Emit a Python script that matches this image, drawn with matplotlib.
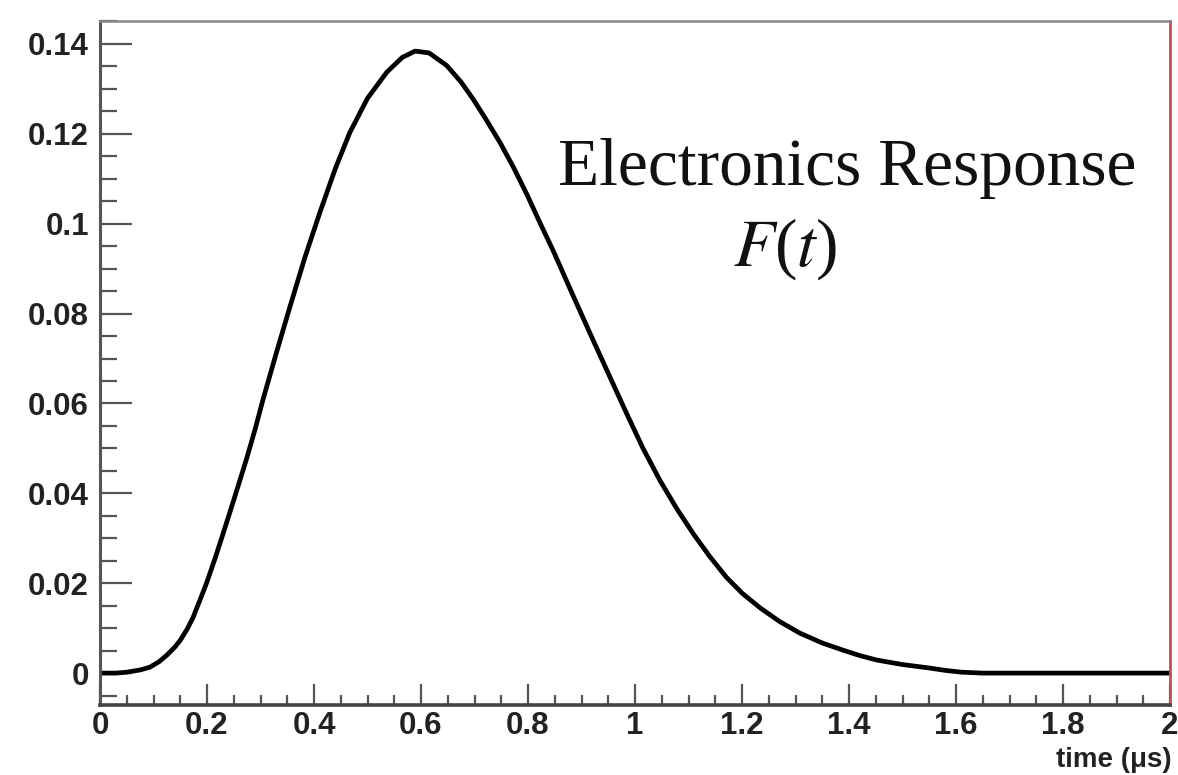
import matplotlib
matplotlib.use('Agg')
import matplotlib.pyplot as plt
from matplotlib.patches import Rectangle
from matplotlib.ticker import MultipleLocator, FixedLocator

# F(t)
time_us = [0.0, 0.03, 0.05, 0.075, 0.093, 0.11, 0.125, 0.14, 0.15, 0.163, 0.174,
           0.19, 0.2, 0.215, 0.23, 0.25, 0.274, 0.29, 0.305, 0.33, 0.355, 0.383,
           0.411, 0.44, 0.467, 0.5, 0.536, 0.565, 0.589, 0.615, 0.648, 0.675,
           0.697, 0.72, 0.748, 0.773, 0.798, 0.822, 0.847, 0.885, 0.922, 0.955,
           0.985, 1.015, 1.047, 1.078, 1.109, 1.14, 1.171, 1.2, 1.234, 1.27,
           1.308, 1.35, 1.389, 1.42, 1.452, 1.5, 1.546, 1.58, 1.61, 1.65,
           1.7, 1.8, 1.9, 2.0]
response = [0.0, 0.0, 0.0002, 0.0007, 0.0013, 0.0025, 0.004, 0.0058, 0.0073, 0.0098, 0.0124,
            0.0172, 0.0203, 0.0255, 0.031, 0.0385, 0.0477, 0.0543, 0.061, 0.0714, 0.0815, 0.0925,
            0.1025, 0.1123, 0.1203, 0.1279, 0.1337, 0.137, 0.1384, 0.138, 0.1352, 0.1315,
            0.1278, 0.1235, 0.118, 0.1125, 0.1065, 0.1003, 0.094, 0.0838, 0.074, 0.0654,
            0.0576, 0.05, 0.0428, 0.0366, 0.031, 0.0259, 0.0213, 0.0178, 0.0145, 0.0115,
            0.0089, 0.0067, 0.0051, 0.0039, 0.0029, 0.0019, 0.0012, 0.0006, 0.0002, 0.0,
            0.0, 0.0, 0.0, 0.0]

x_ticks = [0, 0.2, 0.4, 0.6, 0.8, 1.0, 1.2, 1.4, 1.6, 1.8, 2.0]
x_labels = ['0', '0.2', '0.4', '0.6', '0.8', '1', '1.2', '1.4', '1.6', '1.8', '2']
y_ticks = [0, 0.02, 0.04, 0.06, 0.08, 0.10, 0.12, 0.14]
y_labels = ['0', '0.02', '0.04', '0.06', '0.08', '0.1', '0.12', '0.14']

fig = plt.figure(figsize=(11.78, 7.75), dpi=100)
ax = fig.add_axes([100 / 1178, 70 / 775, 1070 / 1178, 684 / 775])

ax.plot(time_us, response, color='black', lw=3.4, solid_joinstyle='round', solid_capstyle='butt')

ax.set_xlim(0, 2.0)
ax.set_ylim(-0.0071, 0.1451)

ax.xaxis.set_major_locator(FixedLocator(x_ticks))
ax.set_xticklabels(x_labels)
ax.xaxis.set_minor_locator(MultipleLocator(0.05))
ax.yaxis.set_major_locator(FixedLocator(y_ticks))
ax.set_yticklabels(y_labels)
ax.yaxis.set_minor_locator(MultipleLocator(0.005))

for lab in ax.get_xticklabels() + ax.get_yticklabels():
    lab.set_fontfamily('Liberation Sans')
    lab.set_fontweight('bold')
    lab.set_fontsize(22.5)
    lab.set_color('#222222')

ax.tick_params(axis='x', which='major', direction='in', length=15, width=1.6, color='#555555', pad=4)
ax.tick_params(axis='x', which='minor', direction='in', length=7, width=1.6, color='#555555')
ax.tick_params(axis='y', which='major', direction='in', length=23, width=1.6, color='#555555', pad=8)
ax.tick_params(axis='y', which='minor', direction='in', length=12, width=1.6, color='#555555')
ax.tick_params(top=False, right=False, which='both')

ax.spines['left'].set_color('#555555')
ax.spines['left'].set_linewidth(2.2)
ax.spines['bottom'].set_color('#444444')
ax.spines['bottom'].set_linewidth(2.6)
ax.spines['top'].set_color('#888888')
ax.spines['top'].set_linewidth(1.8)
ax.spines['right'].set_color('#c0504d')
ax.spines['right'].set_linewidth(2.0)

ax.text(1.396, 0.1122, 'Electronics Response', family='Liberation Serif', fontsize=48.5,
        ha='center', va='center', color='#111111')
ax.text(1.28, 0.0944, r'$F$($t$)', family='Liberation Serif', fontsize=48.5,
        ha='center', va='center', color='#111111', math_fontfamily='stix')

fig.text(1172 / 1178, 15 / 775, 'time (μs)', family='Liberation Sans',
         weight='bold', fontsize=20, ha='right', va='center', color='#222222')

# the left edge of the reference picture is cropped through the tick labels
fig.patches.append(Rectangle((0, 0), 29 / 1178, 1, transform=fig.transFigure,
                             facecolor='white', edgecolor='none', zorder=10))

plt.savefig('out.png', dpi=100)
